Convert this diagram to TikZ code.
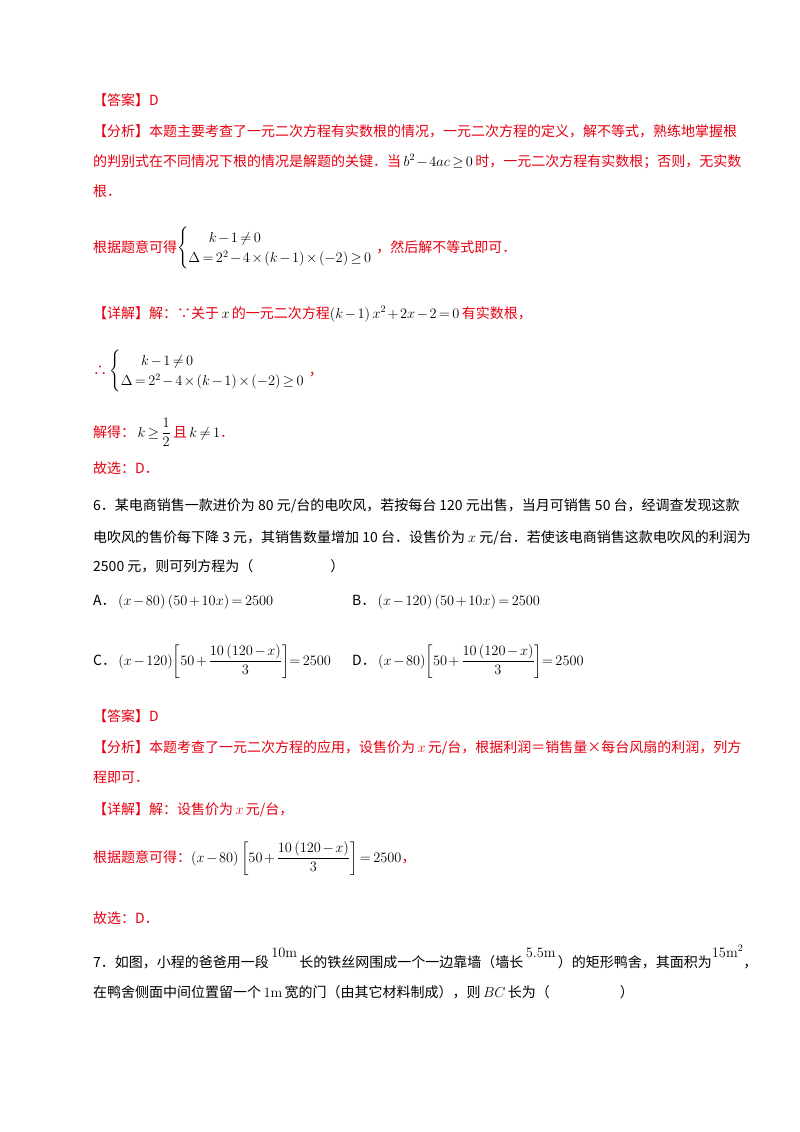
\documentclass[tikz,border=0pt]{standalone}
\usepackage{amsmath,amssymb}
\usepackage[no-math]{fontspec}
\setmainfont{Noto Sans CJK SC}
\definecolor{ansred}{RGB}{230,0,18}
\medmuskip=2mu plus 1mu minus 1mu
\thickmuskip=3mu plus 2mu
\begin{document}
\begin{tikzpicture}[x=1pt,y=1pt,
  t/.style={anchor=base west,inner sep=0pt,font=\fontsize{14}{17}\selectfont},
  r/.style={t,text=ansred}]
\useasboundingbox (0,0) rectangle (800,-1132);
\fill[white] (0,0) rectangle (800,-1132);
\node[r] (a1) at (93,-105) {【答案】D};
\node[r] (a2) at (93,-136) {【分析】本题主要考查了一元二次方程有实数根的情况，一元二次方程的定义，解不等式，熟练地掌握根};
\node[r] (a3) at (93,-166) {的判别式在不同情况下根的情况是解题的关键．当\,\textcolor{black}{$b^2-4ac\ge0$}\,时，一元二次方程有实数根；否则，无实数};
\node[r] (a4) at (93,-196) {根．};
\node[r] (a5) at (93,-252) {根据题意可得\textcolor{black}{$\begin{cases}\quad\ \ k-1\ne0\\ \Delta=2^2-4\times\left(k-1\right)\times\left(-2\right)\ge0\end{cases}$}\kern-10pt，然后解不等式即可．};
\node[r] (a6) at (93,-318) {【详解】解：∵关于\,\textcolor{black}{$x$}\,的一元二次方程\textcolor{black}{$\left(k-1\right)x^2+2x-2=0$}\,有实数根，};
\node[r] (a7) at (93,-375) {∴\,\textcolor{black}{$\begin{cases}\quad\ \ k-1\ne0\\ \Delta=2^2-4\times\left(k-1\right)\times\left(-2\right)\ge0\end{cases}$}\kern-10pt，};
\node[r] (a8) at (93,-437) {解得：\,\textcolor{black}{$k\ge\dfrac12$}\,且\,\textcolor{black}{$k\ne1$}．};
\node[r] (a9) at (93,-473) {故选：D．};
\node[t] (q1) at (93,-510) {6．某电商销售一款进价为 80 元/台的电吹风，若按每台 120 元出售，当月可销售 50 台，经调查发现这款};
\node[t] (q2) at (93,-542) {电吹风的售价每下降 3 元，其销售数量增加 10 台．设售价为 $x$ 元/台．若使该电商销售这款电吹风的利润为};
\node[t] (q3) at (93,-571) {2500 元，则可列方程为（\hspace{5.5em}）};
\node[t] (oA) at (93,-605) {A．\,$\left(x-80\right)\left(50+10x\right)=2500$};
\node[t] (oB) at (352,-605) {B．\,$\left(x-120\right)\left(50+10x\right)=2500$};
\node[t] (oC) at (93,-665) {C．\,$\left(x-120\right)\!\left[50+\dfrac{10\left(120-x\right)}{3}\right]\!=2500$};
\node[t] (oD) at (352,-665) {D．\,$\left(x-80\right)\!\left[50+\dfrac{10\left(120-x\right)}{3}\right]\!=2500$};
\node[r] (b1) at (93,-721) {【答案】D};
\node[r] (b2) at (93,-752) {【分析】本题考查了一元二次方程的应用，设售价为\,$x$\,元/台，根据利润＝销售量×每台风扇的利润，列方};
\node[r] (b3) at (93,-782) {程即可．};
\node[r] (b4) at (93,-814) {【详解】解：设售价为\,$x$\,元/台，};
\node[r] (b5) at (93,-862) {根据题意可得：\textcolor{black}{$\left(x-80\right)\left[50+\dfrac{10\left(120-x\right)}{3}\right]=2500$}，};
\node[r] (b6) at (93,-923) {故选：D．};
\node[t] (c1) at (93,-967) {7．如图，小程的爸爸用一段\,\raisebox{10pt}{$10\mathrm{m}$}\,长的铁丝网围成一个一边靠墙（墙长\,\raisebox{10pt}{$5.5\mathrm{m}$}\,）的矩形鸭舍，其面积为\raisebox{10pt}{$15\mathrm{m}^2$}，};
\node[t] (c2) at (93,-997) {在鸭舍侧面中间位置留一个\,$1\mathrm{m}$\,宽的门（由其它材料制成），则\,$BC$\,长为（\hspace{5em}）};
\end{tikzpicture}
\end{document}
